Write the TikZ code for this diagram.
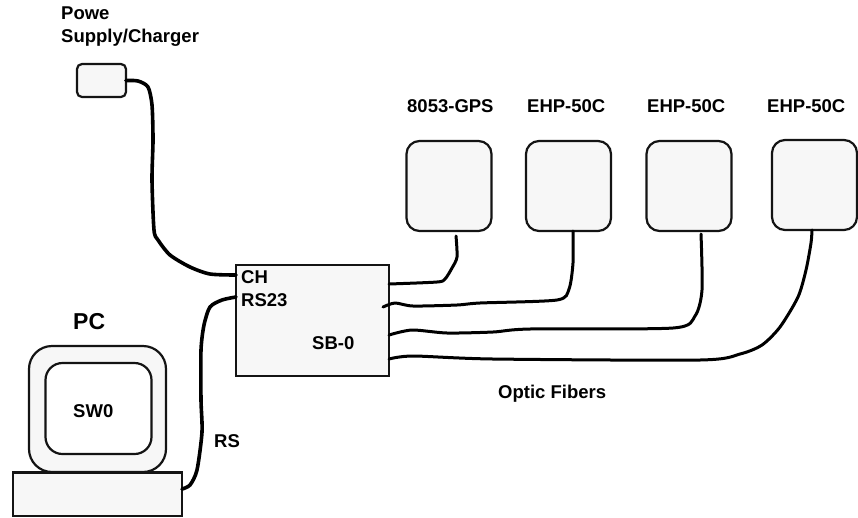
\documentclass[tikz,border=0pt]{standalone}
\usepackage{fontspec}
\setmainfont{Liberation Sans}
\tikzset{
  panel/.style={draw=black!92,line width=2.2pt,fill=black!3,inner sep=0pt,outer sep=0pt},
  device/.style={panel,rounded corners=13pt,minimum width=85pt,minimum height=90pt},
  cable/.style={draw=black,line width=3.6pt,line cap=round,line join=round},
  fibre/.style={draw=black,line width=3pt,line cap=round,line join=round},
  lbl/.style={font=\bfseries\fontsize{18.5}{20}\selectfont,anchor=base west,inner sep=0pt,text=black}
}
\begin{document}
\begin{tikzpicture}[x=1pt,y=-1pt]
\useasboundingbox (0,0) rectangle (858,517);
% boxes
\node[panel,rounded corners=5pt,minimum width=49pt,minimum height=33pt] (psu) at (101.5,80.5) {};
\node[panel,minimum width=153pt,minimum height=111pt] (sb) at (312.5,320.5) {};
\node[panel,rounded corners=23pt,minimum width=137pt,minimum height=126pt] (mon) at (97.5,409) {};
\node[panel,fill=white,rounded corners=17pt,minimum width=106pt,minimum height=91pt] (scr) at (98.5,408.5) {};
\node[panel,minimum width=169pt,minimum height=43.5pt] (base) at (97.5,494.2) {};
\node[device] (gps) at (449,186) {};
\node[device] (e1) at (568.5,186) {};
\node[device] (e2) at (689,186) {};
\node[device] (e3) at (814.5,185) {};
% labels
\node[lbl] (t1) at (61,19) {Powe};
\node[lbl] (t2) at (61,42) {Supply/Charger};
\node[lbl] (t3) at (407,112) {8053-GPS};
\node[lbl] (t4) at (527,112) {EHP-50C};
\node[lbl] (t5) at (647,112) {EHP-50C};
\node[lbl] (t6) at (767,112) {EHP-50C};
\node[lbl] (t7) at (498,398) {Optic Fibers};
\node[lbl] (t8) at (241,283) {CH};
\node[lbl] (t9) at (241,306) {RS23};
\node[lbl] (t10) at (312,349) {SB-0};
\node[lbl,font=\bfseries\fontsize{23}{25}\selectfont] (t11) at (73,329) {PC};
\node[lbl] (t12) at (73,417) {SW0};
\node[lbl] (t13) at (214,447) {RS};
% free connector ends
\coordinate (ch) at (236,275);
\coordinate (rs) at (236,297);
\coordinate (baser) at (182,489);
\coordinate (f1a) at (389,284);
\coordinate (f2a) at (383,307);
\coordinate (f3a) at (389,335);
\coordinate (f4a) at (389,359);
\coordinate (f1b) at (456,236);
\coordinate (f2b) at (573,231);
\coordinate (f3b) at (701,234);
\coordinate (f4b) at (812,230);
% connectors
\draw[cable] plot[smooth,tension=.45] coordinates {(psu.east) (138,81) (148,87) (152,105) (153,140) (152,180) (154,230) (158,240) (170,255) (190,267) (210,274) (ch)};
\draw[cable] plot[smooth,tension=.45] coordinates {(rs) (222,300) (210,307) (204,325) (201,350) (201,400) (202,432) (197,470) (190,485) (baser)};
\draw[fibre] plot[smooth,tension=.45] coordinates {(f1a) (437,282) (445,279) (452,268) (457,257) (f1b)};
\draw[fibre] plot[smooth,tension=.45] coordinates {(f2a) (395,303) (413,306) (457,305) (480,303) (557,300) (569,289) (573,263) (f2b)};
\draw[fibre] plot[smooth,tension=.45] coordinates {(f3a) (412,330) (447,333) (493,332) (530,329) (673,328) (695,316) (702,290) (f3b)};
\draw[fibre] plot[smooth,tension=.45] coordinates {(f4a) (413,356) (493,359) (700,360) (740,354) (762,345) (780,327) (798,297) (806,270) (811,243) (f4b)};
\end{tikzpicture}
\end{document}
